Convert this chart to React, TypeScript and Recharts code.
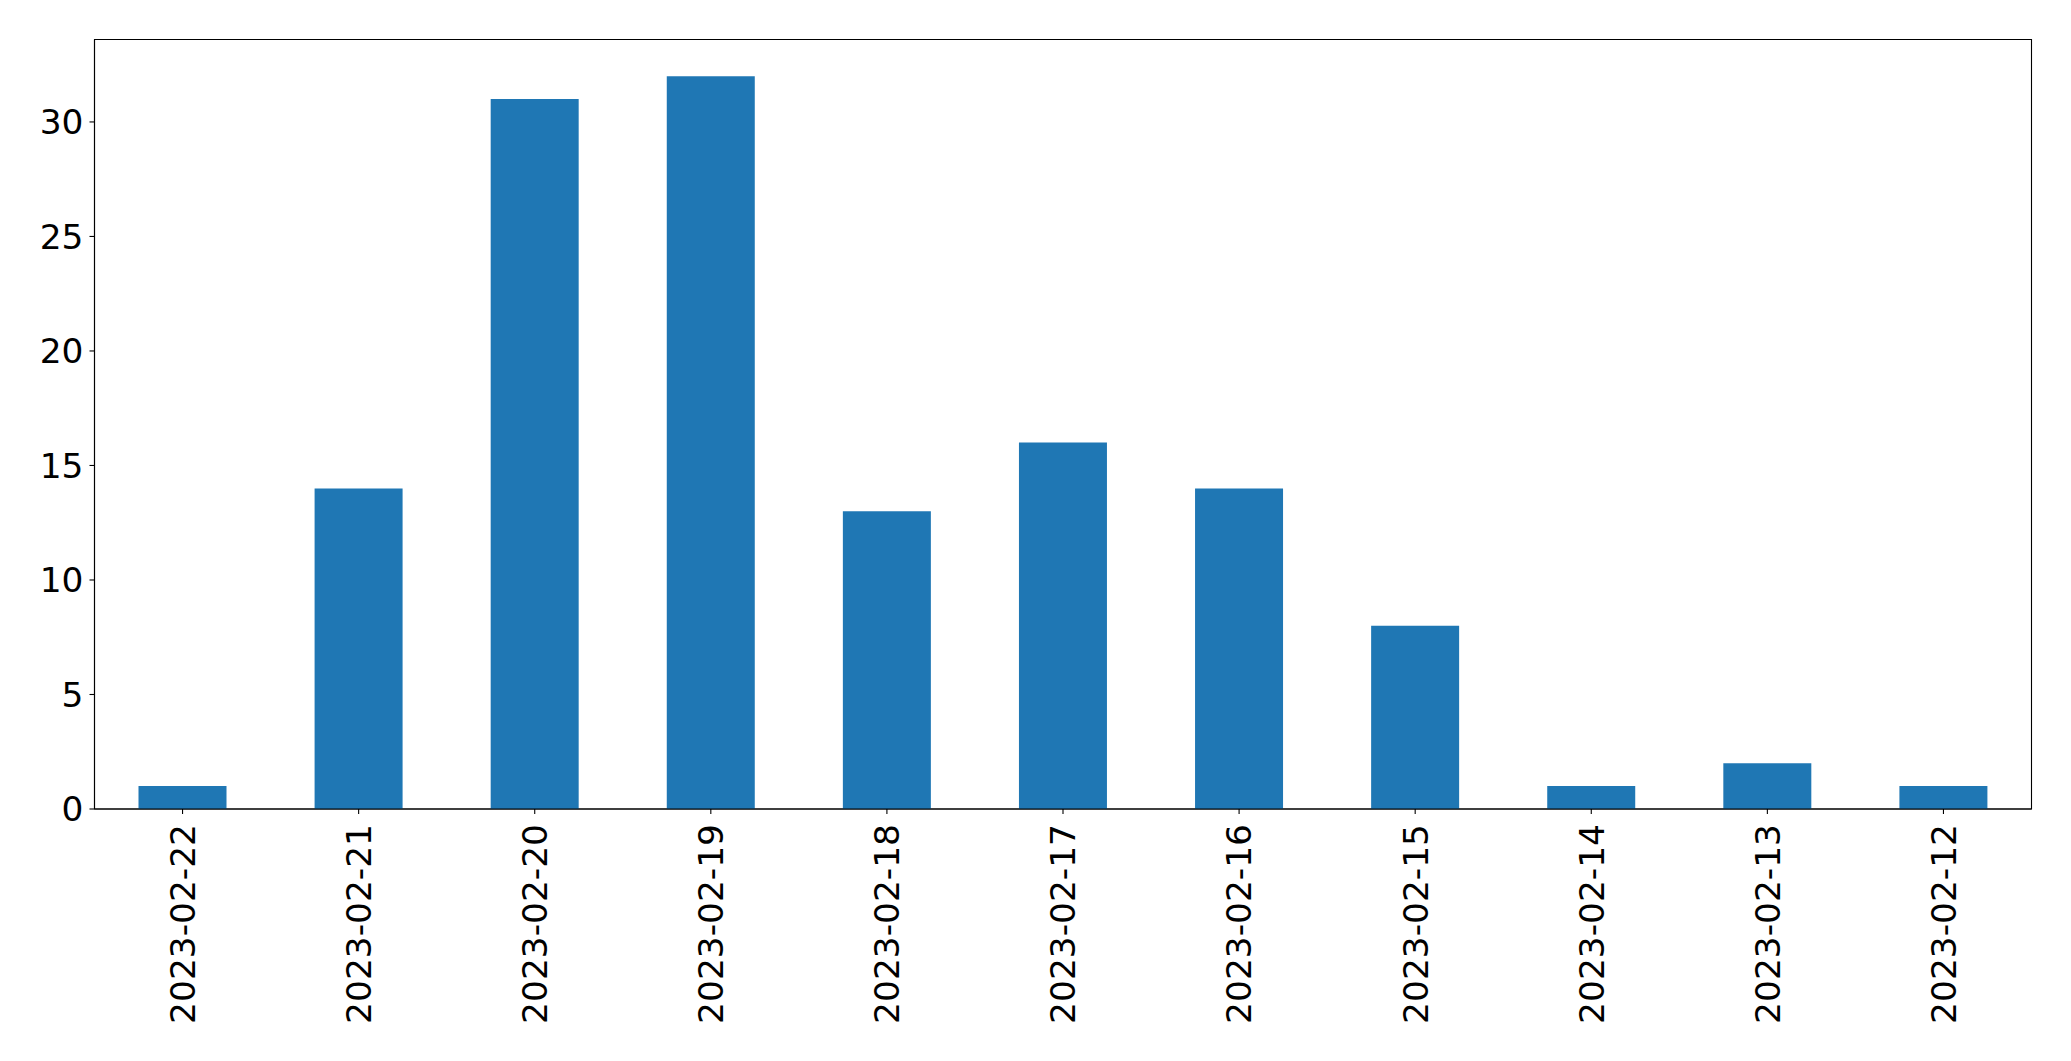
import React from 'react';
import { ComposedChart, Bar, XAxis, YAxis, ReferenceArea } from 'recharts';

const categories = ['2023-02-22', '2023-02-21', '2023-02-20', '2023-02-19', '2023-02-18', '2023-02-17', '2023-02-16', '2023-02-15', '2023-02-14', '2023-02-13', '2023-02-12'];
const counts = [1, 14, 31, 32, 13, 16, 14, 8, 1, 2, 1];
const yTicks = [0, 5, 10, 15, 20, 25, 30];

const data = categories.map((c, i) => ({ date: c, count: counts[i] }));

const FONT = '"DejaVu Sans", sans-serif';
const FS = 34.4;

const XTick = (props: any) => {
  const { x, y, payload } = props;
  return (
    <g transform={`translate(${x},${y})`}>
      <text transform="rotate(-90)" x={0} y={0} dy="0.36em" textAnchor="end" fill="#000" fontFamily={FONT} fontSize={FS}>
        {payload.value}
      </text>
    </g>
  );
};

export default function App() {
  return (
    <div style={{ position: 'absolute', left: 0, top: 0, background: '#fff' }}>
      <ComposedChart
        width={2071}
        height={1061}
        data={data}
        margin={{ top: 39.5, right: 39.5, bottom: 12, left: 0 }}
        barCategoryGap={0}
      >
        <XAxis
          dataKey="date"
          interval={0}
          height={240}
          tickSize={5}
          tickMargin={10}
          tick={<XTick />}
          axisLine={{ stroke: '#000', strokeWidth: 1.1 }}
          tickLine={{ stroke: '#000', strokeWidth: 1.1 }}
        />
        <YAxis
          type="number"
          domain={[0, 33.6]}
          ticks={yTicks}
          allowDataOverflow
          width={94.5}
          tickSize={5}
          tickMargin={6}
          tick={{ fill: '#000', fontFamily: FONT, fontSize: FS }}
          axisLine={{ stroke: '#000', strokeWidth: 1.1 }}
          tickLine={{ stroke: '#000', strokeWidth: 1.1 }}
        />
        <Bar dataKey="count" fill="#1f77b4" barSize={88} isAnimationActive={false} />
        <ReferenceArea y1={0} y2={33.6} fill="none" fillOpacity={0} stroke="#000" strokeWidth={1.1} ifOverflow="visible" />
      </ComposedChart>
    </div>
  );
}
